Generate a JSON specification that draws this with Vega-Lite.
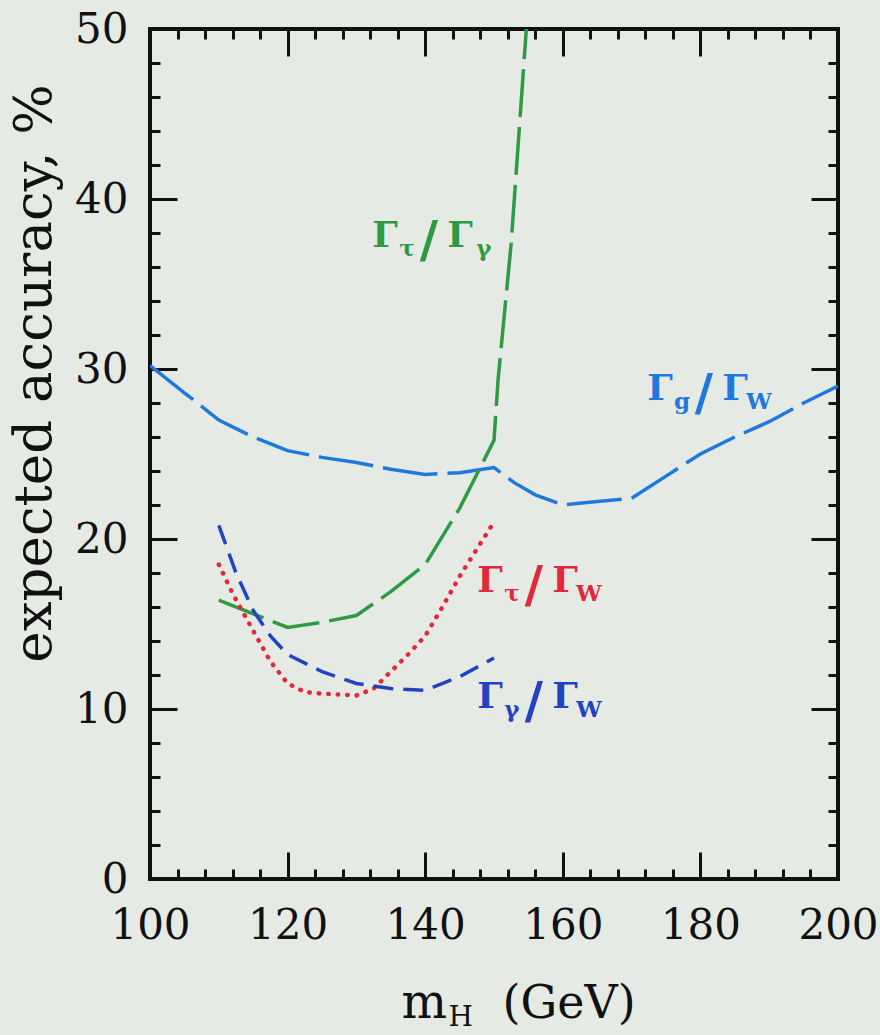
{
  "$schema": "https://vega.github.io/schema/vega-lite/v6.json",
  "width": 688,
  "height": 850,
  "autosize": {"type": "none"},
  "padding": {"left": 150, "top": 29, "right": 42, "bottom": 156},
  "background": "#e6eae4",
  "config": {
    "view": {"stroke": "#111111", "strokeWidth": 4, "fill": "#e6eae4"},
    "axis": {
      "domain": false,
      "grid": false,
      "labelFont": "DejaVu Serif",
      "titleFont": "DejaVu Serif",
      "labelColor": "#111111",
      "titleColor": "#111111",
      "tickColor": "#111111",
      "tickWidth": 3,
      "labelFlush": false,
      "labelOverlap": false,
      "titleFontWeight": "normal"
    }
  },
  "datasets": {
    "curves": [
      {"curve": "gW", "x": 100, "y": 30.2},
      {"curve": "gW", "x": 105, "y": 28.6},
      {"curve": "gW", "x": 110, "y": 27.0},
      {"curve": "gW", "x": 115, "y": 26.0},
      {"curve": "gW", "x": 120, "y": 25.2},
      {"curve": "gW", "x": 125, "y": 24.8},
      {"curve": "gW", "x": 130, "y": 24.5},
      {"curve": "gW", "x": 135, "y": 24.1},
      {"curve": "gW", "x": 140, "y": 23.8},
      {"curve": "gW", "x": 145, "y": 23.9},
      {"curve": "gW", "x": 150, "y": 24.2},
      {"curve": "gW", "x": 153, "y": 23.3},
      {"curve": "gW", "x": 156, "y": 22.6},
      {"curve": "gW", "x": 160, "y": 22.0},
      {"curve": "gW", "x": 165, "y": 22.2},
      {"curve": "gW", "x": 170, "y": 22.4},
      {"curve": "gW", "x": 175, "y": 23.7},
      {"curve": "gW", "x": 180, "y": 25.0},
      {"curve": "gW", "x": 185, "y": 26.0},
      {"curve": "gW", "x": 190, "y": 26.9},
      {"curve": "gW", "x": 195, "y": 28.0},
      {"curve": "gW", "x": 200, "y": 29.0},
      {"curve": "tg", "x": 110, "y": 16.4},
      {"curve": "tg", "x": 115, "y": 15.6},
      {"curve": "tg", "x": 120, "y": 14.8},
      {"curve": "tg", "x": 125, "y": 15.1},
      {"curve": "tg", "x": 130, "y": 15.5},
      {"curve": "tg", "x": 135, "y": 16.9},
      {"curve": "tg", "x": 140, "y": 18.5},
      {"curve": "tg", "x": 145, "y": 21.8},
      {"curve": "tg", "x": 150, "y": 25.8},
      {"curve": "tg", "x": 150.6, "y": 29.4},
      {"curve": "tg", "x": 152.5, "y": 37.4},
      {"curve": "tg", "x": 154.7, "y": 50.0},
      {"curve": "tw", "x": 110, "y": 18.5},
      {"curve": "tw", "x": 112, "y": 16.8},
      {"curve": "tw", "x": 115, "y": 14.6},
      {"curve": "tw", "x": 117.5, "y": 12.8},
      {"curve": "tw", "x": 120, "y": 11.5},
      {"curve": "tw", "x": 122.5, "y": 11.0},
      {"curve": "tw", "x": 125, "y": 10.9},
      {"curve": "tw", "x": 130, "y": 10.8},
      {"curve": "tw", "x": 132.5, "y": 11.2},
      {"curve": "tw", "x": 135, "y": 12.2},
      {"curve": "tw", "x": 137.5, "y": 13.2},
      {"curve": "tw", "x": 140, "y": 14.3},
      {"curve": "tw", "x": 142.5, "y": 16.0},
      {"curve": "tw", "x": 145, "y": 17.8},
      {"curve": "tw", "x": 147.5, "y": 19.4},
      {"curve": "tw", "x": 150, "y": 21.0},
      {"curve": "yw", "x": 110, "y": 20.8},
      {"curve": "yw", "x": 112.5, "y": 18.0},
      {"curve": "yw", "x": 115, "y": 15.8},
      {"curve": "yw", "x": 117.5, "y": 14.3},
      {"curve": "yw", "x": 120, "y": 13.2},
      {"curve": "yw", "x": 125, "y": 12.2},
      {"curve": "yw", "x": 130, "y": 11.5},
      {"curve": "yw", "x": 135, "y": 11.2},
      {"curve": "yw", "x": 140, "y": 11.1},
      {"curve": "yw", "x": 145, "y": 11.9},
      {"curve": "yw", "x": 150, "y": 13.0}
    ],
    "labels": [
      {"curve": "tg", "part": "main", "t": "Γ", "x": 134.15, "y": 37.18},
      {"curve": "tg", "part": "sub", "t": "τ", "x": 137.35, "y": 37.18},
      {"curve": "tg", "part": "slash", "t": "/", "x": 140.55, "y": 37.18},
      {"curve": "tg", "part": "main", "t": "Γ", "x": 145.06, "y": 37.18},
      {"curve": "tg", "part": "sub", "t": "γ", "x": 148.54, "y": 37.18},
      {"curve": "gW", "part": "main", "t": "Γ", "x": 174.12, "y": 28.18},
      {"curve": "gW", "part": "sub", "t": "g", "x": 177.32, "y": 28.18},
      {"curve": "gW", "part": "slash", "t": "/", "x": 180.52, "y": 28.18},
      {"curve": "gW", "part": "main", "t": "Γ", "x": 185.03, "y": 28.18},
      {"curve": "gW", "part": "sub", "t": "W", "x": 188.51, "y": 28.18},
      {"curve": "tw", "part": "main", "t": "Γ", "x": 149.41, "y": 16.88},
      {"curve": "tw", "part": "sub", "t": "τ", "x": 152.61, "y": 16.88},
      {"curve": "tw", "part": "slash", "t": "/", "x": 155.81, "y": 16.88},
      {"curve": "tw", "part": "main", "t": "Γ", "x": 160.32, "y": 16.88},
      {"curve": "tw", "part": "sub", "t": "W", "x": 163.8, "y": 16.88},
      {"curve": "yw", "part": "main", "t": "Γ", "x": 149.41, "y": 10.06},
      {"curve": "yw", "part": "sub", "t": "γ", "x": 152.61, "y": 10.06},
      {"curve": "yw", "part": "slash", "t": "/", "x": 155.81, "y": 10.06},
      {"curve": "yw", "part": "main", "t": "Γ", "x": 160.32, "y": 10.06},
      {"curve": "yw", "part": "sub", "t": "W", "x": 163.8, "y": 10.06}
    ]
  },
  "resolve": {"axis": {"x": "independent", "y": "independent"}},
  "layer": [
    {
      "data": {"name": "curves"},
      "transform": [{"filter": "datum.curve === 'gW'"}],
      "mark": {"type": "line", "strokeWidth": 3.5, "strokeDash": [55, 10], "clip": true},
      "encoding": {
        "x": {"field": "x", "type": "quantitative", "scale": {"domain": [100, 200], "nice": false, "zero": false},
          "axis": {"orient": "bottom", "values": [100, 120, 140, 160, 180, 200], "ticks": false, "labelPadding": 26, "labelFontSize": 42,
            "title": "m", "titleFontSize": 48, "titleX": 251, "titleY": 138, "titleAlign": "left", "titleBaseline": "alphabetic", "titleAngle": 0}},
        "y": {"field": "y", "type": "quantitative", "scale": {"domain": [0, 50], "nice": false, "zero": false},
          "axis": {"orient": "left", "values": [0, 10, 20, 30, 40, 50], "ticks": false, "labelPadding": 22, "labelFontSize": 42,
            "title": "expected accuracy, %", "titleFontSize": 53, "titleAngle": -90, "titleX": -100, "titleY": 344, "titleAlign": "center", "titleBaseline": "alphabetic"}},
        "color": {"field": "curve", "type": "nominal", "scale": {"domain": ["gW", "tg", "tw", "yw"], "range": ["#1f78dc", "#2e9a44", "#e3283a", "#2342c2"]}, "legend": null}
      }
    },
    {
      "data": {"name": "curves"},
      "transform": [{"filter": "datum.curve === 'tg'"}],
      "mark": {"type": "line", "strokeWidth": 3.5, "strokeDash": [48, 10], "clip": true},
      "encoding": {
        "x": {"field": "x", "type": "quantitative", "scale": {"domain": [100, 200], "nice": false, "zero": false},
          "axis": {"orient": "bottom", "values": [120, 140, 160, 180], "tickSize": -27, "labels": false,
            "title": "H", "titleFontSize": 28, "titleX": 298, "titleY": 146, "titleAlign": "left", "titleBaseline": "alphabetic", "titleAngle": 0}},
        "y": {"field": "y", "type": "quantitative", "scale": {"domain": [0, 50], "nice": false, "zero": false},
          "axis": {"orient": "left", "values": [10, 20, 30, 40], "tickSize": -27, "labels": false, "title": null}},
        "color": {"field": "curve", "type": "nominal", "legend": null}
      }
    },
    {
      "data": {"name": "curves"},
      "transform": [{"filter": "datum.curve === 'tw'"}],
      "mark": {"type": "line", "strokeWidth": 4.5, "strokeDash": [0.5, 9], "strokeCap": "round", "clip": true},
      "encoding": {
        "x": {"field": "x", "type": "quantitative", "scale": {"domain": [100, 200], "nice": false, "zero": false},
          "axis": {"orient": "bottom", "values": [104, 108, 112, 116, 124, 128, 132, 136, 144, 148, 152, 156, 164, 168, 172, 176, 184, 188, 192, 196], "tickSize": -10, "labels": false,
            "title": "(GeV)", "titleFontSize": 46, "titleX": 352, "titleY": 138, "titleAlign": "left", "titleBaseline": "alphabetic", "titleAngle": 0}},
        "y": {"field": "y", "type": "quantitative", "scale": {"domain": [0, 50], "nice": false, "zero": false},
          "axis": {"orient": "left", "values": [2, 4, 6, 8, 12, 14, 16, 18, 22, 24, 26, 28, 32, 34, 36, 38, 42, 44, 46, 48], "tickSize": -10, "labels": false, "title": null}},
        "color": {"field": "curve", "type": "nominal", "legend": null}
      }
    },
    {
      "data": {"name": "curves"},
      "transform": [{"filter": "datum.curve === 'yw'"}],
      "mark": {"type": "line", "strokeWidth": 3.5, "strokeDash": [20, 10], "clip": true},
      "encoding": {
        "x": {"field": "x", "type": "quantitative", "scale": {"domain": [100, 200], "nice": false, "zero": false},
          "axis": {"orient": "top", "values": [120, 140, 160, 180], "tickSize": -27, "labels": false, "title": null}},
        "y": {"field": "y", "type": "quantitative", "scale": {"domain": [0, 50], "nice": false, "zero": false},
          "axis": {"orient": "right", "values": [10, 20, 30, 40], "tickSize": -27, "labels": false, "title": null}},
        "color": {"field": "curve", "type": "nominal", "legend": null}
      }
    },
    {
      "data": {"name": "labels"},
      "transform": [{"filter": "datum.part === 'main'"}],
      "mark": {"type": "text", "font": "DejaVu Serif", "fontWeight": "bold", "fontSize": 36, "align": "center", "baseline": "alphabetic"},
      "encoding": {
        "x": {"field": "x", "type": "quantitative", "scale": {"domain": [100, 200], "nice": false, "zero": false},
          "axis": {"orient": "top", "values": [104, 108, 112, 116, 124, 128, 132, 136, 144, 148, 152, 156, 164, 168, 172, 176, 184, 188, 192, 196], "tickSize": -10, "labels": false, "title": null}},
        "y": {"field": "y", "type": "quantitative", "scale": {"domain": [0, 50], "nice": false, "zero": false},
          "axis": {"orient": "right", "values": [2, 4, 6, 8, 12, 14, 16, 18, 22, 24, 26, 28, 32, 34, 36, 38, 42, 44, 46, 48], "tickSize": -10, "labels": false, "title": null}},
        "text": {"field": "t"},
        "color": {"field": "curve", "type": "nominal", "legend": null}
      }
    },
    {
      "data": {"name": "labels"},
      "transform": [{"filter": "datum.part === 'sub'"}],
      "mark": {"type": "text", "font": "DejaVu Serif", "fontWeight": "bold", "fontSize": 23, "align": "center", "baseline": "alphabetic", "dy": 9},
      "encoding": {
        "x": {"field": "x", "type": "quantitative", "axis": null},
        "y": {"field": "y", "type": "quantitative", "axis": null},
        "text": {"field": "t"},
        "color": {"field": "curve", "type": "nominal", "legend": null}
      }
    },
    {
      "data": {"name": "labels"},
      "transform": [{"filter": "datum.part === 'slash'"}],
      "mark": {"type": "text", "font": "DejaVu Serif", "fontWeight": "bold", "fontSize": 50, "align": "center", "baseline": "alphabetic", "dy": 10},
      "encoding": {
        "x": {"field": "x", "type": "quantitative", "axis": null},
        "y": {"field": "y", "type": "quantitative", "axis": null},
        "text": {"field": "t"},
        "color": {"field": "curve", "type": "nominal", "legend": null}
      }
    }
  ]
}
